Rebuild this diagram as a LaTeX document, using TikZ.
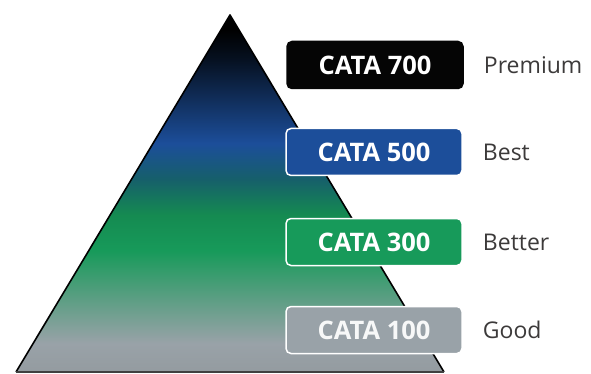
\documentclass[tikz,border=0pt]{standalone}
\usepackage{fontspec}
\setmainfont{Open Sans}
\usepackage{tikz}
\usetikzlibrary{positioning}
\definecolor{tierblack}{HTML}{050505}
\definecolor{tierblue}{HTML}{1C4E9A}
\definecolor{tiergreen}{HTML}{179A5A}
\definecolor{tiergray}{HTML}{99A2A8}
\definecolor{labelgray}{HTML}{3C3A3A}
% colours of the pyramid, from the base (25bp) up to the apex (75bp)
\pgfdeclareverticalshading{pyramid}{100bp}{
  color(0bp)=(tiergray!80!gray);
  color(25bp)=(tiergray!80!gray);
  color(29bp)=(tiergray);
  color(35bp)=(tiergreen!45!tiergray);
  color(42bp)=(tiergreen);
  color(47bp)=(tiergreen!90!black);
  color(52bp)=(tiergreen!45!tierblue!85!black);
  color(57bp)=(tierblue);
  color(63bp)=(tierblue!60!black);
  color(69bp)=(tierblue!20!black);
  color(73bp)=(black);
  color(100bp)=(black)}
\tikzset{
tier/.style={draw=white, line width=1.5pt, rounded corners=5pt, text=white,
  minimum width=176pt, minimum height=47pt, inner sep=0pt,
  font=\fontsize{25.5}{27}\selectfont\bfseries}, % sets the look of each tier box
tierlabel/.style={inner sep=0pt, anchor=west, text=labelgray,
  font=\fontsize{23}{25}\selectfont}, % sets the text next to each box
}

\begin{document}
\begin{tikzpicture}[x=1pt, y=-1pt]
    \useasboundingbox (0,0) rectangle (591,374);
    \fill[white] (0,0) rectangle (591,374);
    \coordinate (apex) at (230,15);
    \coordinate (baseL) at (16,372);
    \coordinate (baseR) at (444,372);
    \shade[shading=pyramid] (apex) -- (baseR) -- (baseL) -- cycle;
    \draw[line width=1.6pt, line join=round] (baseL) -- (apex) -- (baseR);
    \draw[line width=1.2pt, black!75] (baseL) -- (baseR);
    \node[tier, fill=tierblack, draw=tierblack] (c700) at (375,65) {CATA 700};
    \node[tier, fill=tierblue] (c500) at (374,152) {CATA 500};
    \node[tier, fill=tiergreen] (c300) at (374,242) {CATA 300};
    \node[tier, fill=tiergray, text=white!92!tiergray] (c100) at (374,330) {CATA 100};
    \node[tierlabel, right=20pt of c700] (premium) {Premium};
    \node[tierlabel, right=20pt of c500] (best) {Best};
    \node[tierlabel, right=20pt of c300] (better) {Better};
    \node[tierlabel, right=20pt of c100] (good) {Good};
\end{tikzpicture}
\end{document}
